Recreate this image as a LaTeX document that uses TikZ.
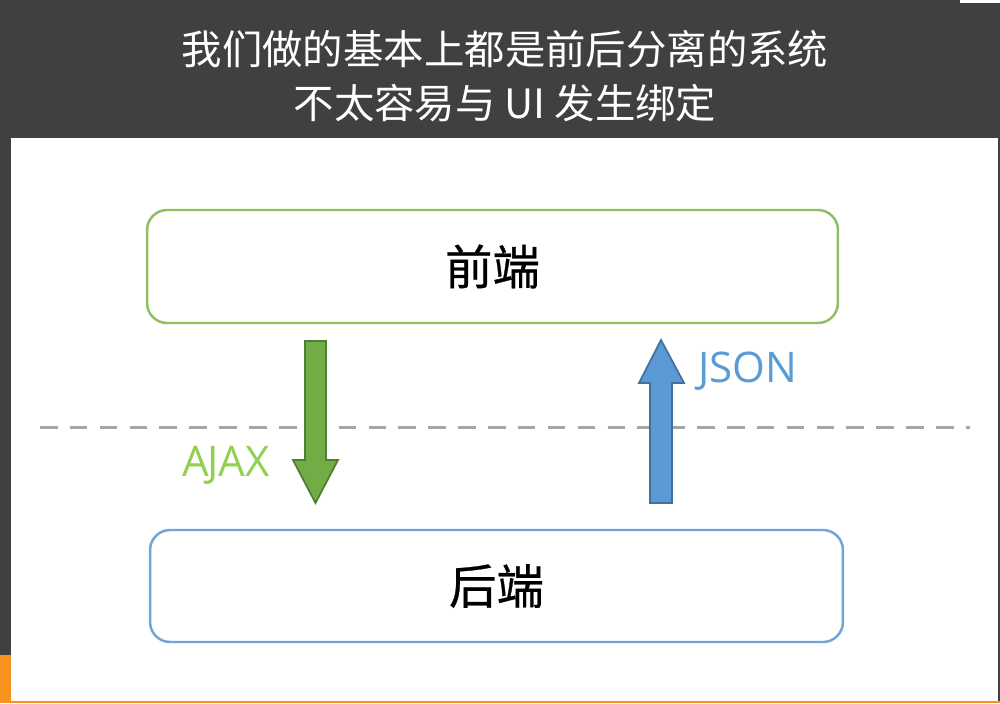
\documentclass[tikz,border=0pt]{standalone}
\usepackage{fontspec}
\setmainfont{Open Sans}
\newfontfamily\cjk{Noto Sans CJK SC}
\newfontfamily\cjkbox{Noto Sans CJK SC}[FakeBold=0.6]
\usetikzlibrary{positioning}
\definecolor{slidegray}{HTML}{404040}
\definecolor{slideorange}{HTML}{F7931E}
\definecolor{boxgreen}{HTML}{8CC063}
\definecolor{boxblue}{HTML}{6FA5D8}
\definecolor{arrowgreen}{HTML}{70AD47}
\definecolor{arrowgreendark}{HTML}{507E32}
\definecolor{arrowblue}{HTML}{5B9BD5}
\definecolor{arrowbluedark}{HTML}{41719C}
\definecolor{labelgreen}{HTML}{92D050}
\tikzset{
  layerbox/.style={rectangle, rounded corners=0.4cm, line width=1.4pt, fill=white,
    font=\cjkbox\fontsize{27}{32}\selectfont, text=black},
  blockarrow/.style={line width=1pt, line join=miter},
  protolabel/.style={font=\fontsize{24}{28}\selectfont}
}
\begin{document}
\begin{tikzpicture}[x=0.02cm, y=-0.02cm]
  \useasboundingbox (0,0) rectangle (1000,703);
  % slide background
  \fill[slidegray] (0,0) rectangle (1000,703);
  \fill[white] (11,138) rectangle (998,701);
  \fill[white] (960,0) rectangle (1000,3);
  \fill[slideorange] (0,655) rectangle (11,703);
  \fill[slideorange] (11,701) rectangle (1000,703);
  % title
  \node (title) at (505,76) [text=white, align=center, font=\cjk\fontsize{23}{30.5}\selectfont]
    {我们做的基本上都是前后分离的系统\\不太容易与 UI 发生绑定};
  % layers
  \node (front) at (492.5,266.5) [layerbox, draw=boxgreen, minimum width=13.82cm, minimum height=2.26cm] {前端};
  \node (back) at (496.5,586) [layerbox, draw=boxblue, minimum width=13.86cm, minimum height=2.24cm] {后端};
  % boundary
  \draw[gray!70, line width=1.7pt, dash pattern=on 10pt off 7pt] (40,427) -- (970,427);
  % request / response arrows
  \filldraw[blockarrow, fill=arrowgreen, draw=arrowgreendark]
    (305,341) -- (326,341) -- (326,460) -- (338,460) -- (315.5,503) -- (293,460) -- (305,460) -- cycle;
  \filldraw[blockarrow, fill=arrowblue, draw=arrowbluedark]
    (650,503) -- (672,503) -- (672,383) -- (684,383) -- (661,340) -- (639,383) -- (650,383) -- cycle;
  \node (ajax) at (226,465) [protolabel, text=labelgreen] {A\kern-1pt JAX};
  \node (json) at (748,371) [protolabel, text=arrowblue] {JSON};
\end{tikzpicture}
\end{document}
